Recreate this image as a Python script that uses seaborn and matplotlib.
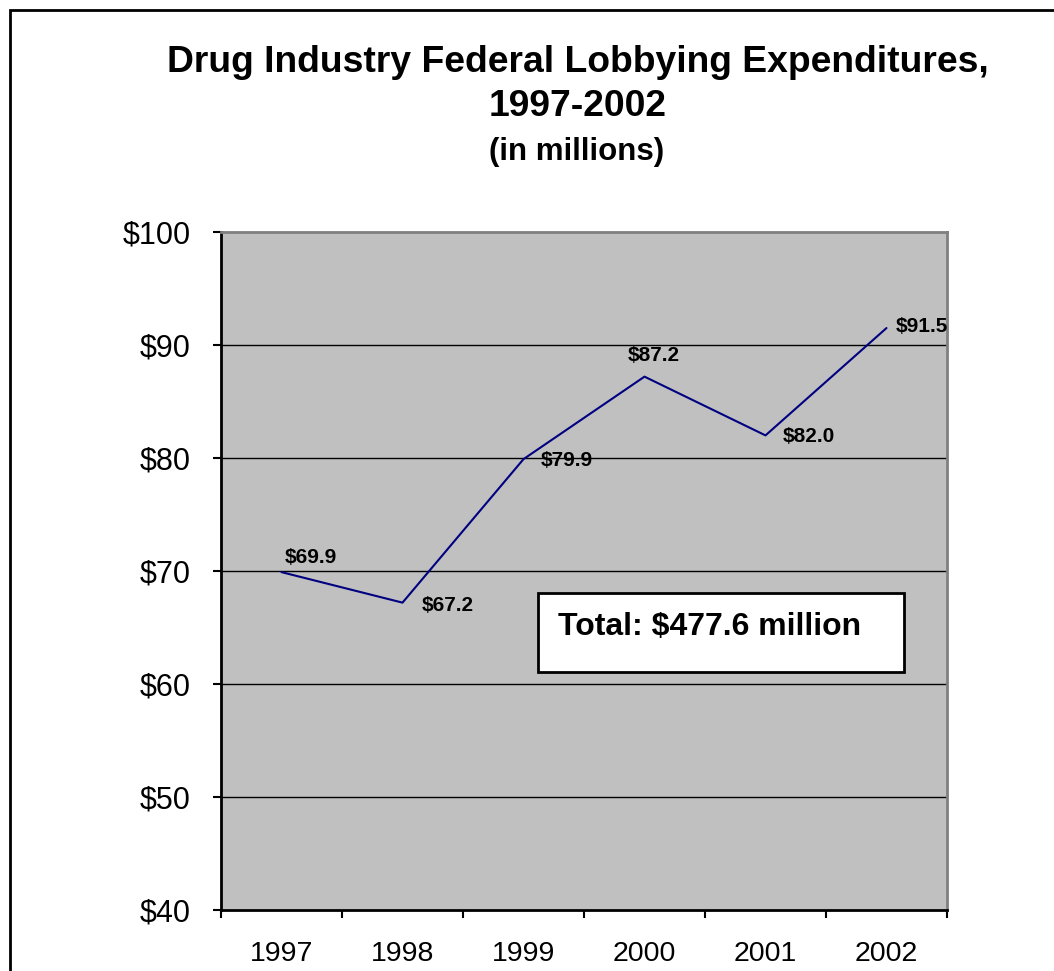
import matplotlib
matplotlib.use("Agg")
import matplotlib.pyplot as plt
import matplotlib.patches as mpatches
import seaborn as sns
import pandas as pd
import numpy as np

years = ["1997", "1998", "1999", "2000", "2001", "2002"]
values = [69.9, 67.2, 79.9, 87.2, 82.0, 91.5]
value_labels = ["$69.9", "$67.2", "$79.9", "$87.2", "$82.0", "$91.5"]
y_ticks = [40, 50, 60, 70, 80, 90, 100]
y_tick_labels = ["$40", "$50", "$60", "$70", "$80", "$90", "$100"]
total_text = "Total: $477.6 million"
title_lines = ["Drug Industry Federal Lobbying Expenditures,", "1997-2002", "(in millions)"]

# label offsets in pixels (styling)
label_offsets = [(29, 15), (45, -3), (43, -1), (9, 21), (43, -1), (35, 2)]

sns.set_theme(style="white")
plt.rcParams["font.family"] = ["Liberation Sans", "DejaVu Sans"]
plt.rcParams["text.color"] = "black"
plt.rcParams["xtick.color"] = "black"
plt.rcParams["ytick.color"] = "black"

df = pd.DataFrame({"idx": np.arange(len(years)), "value": values})

fig = plt.figure(figsize=(10.54, 9.71), dpi=100)
W, H = 1054, 971
L, R, T, B = 221, 947, 232, 910
ax = fig.add_axes([L / W, 1 - B / H, (R - L) / W, (B - T) / H])
ax.set_facecolor("#C0C0C0")

sns.lineplot(data=df, x="idx", y="value", ax=ax, color="#000080", linewidth=1.5,
             marker=None, legend=False)

ax.set_xlim(-0.5, len(years) - 0.5)
ax.set_ylim(40, 100)
ax.set_yticks(y_ticks)
ax.set_yticklabels(y_tick_labels, fontsize=22)
ax.set_xticks(np.arange(len(years) + 1) - 0.5)
ax.set_xticklabels([])
ax.set_xticks(np.arange(len(years)), minor=True)
ax.set_xticklabels(years, minor=True, fontsize=20.5)
ax.tick_params(axis="x", which="minor", length=0, pad=22)
ax.tick_params(axis="x", which="major", length=6, width=1.5, color="black", direction="out", bottom=True)
ax.tick_params(axis="y", length=6, width=1.5, color="black", direction="out", left=True, pad=16)
ax.set_xlabel("")
ax.set_ylabel("")

for yv in y_ticks[1:-1]:
    ax.axhline(yv, color="black", linewidth=1, zorder=1)

for s in ["left", "bottom"]:
    ax.spines[s].set_color("black")
    ax.spines[s].set_linewidth(2)
for s in ["top", "right"]:
    ax.spines[s].set_color("#808080")
    ax.spines[s].set_linewidth(2)

for i, (v, lab) in enumerate(zip(values, value_labels)):
    ax.annotate(lab, (i, v), xytext=label_offsets[i], textcoords="offset pixels",
                ha="center", va="center", fontsize=15, fontweight="bold", color="black")

# Total box
bx0 = (538 - L) / (R - L)
by0 = (B - 672) / (B - T)
bw = (904 - 538) / (R - L)
bh = (672 - 593) / (B - T)
ax.add_patch(mpatches.Rectangle((bx0, by0), bw, bh, transform=ax.transAxes,
                                facecolor="white", edgecolor="black", linewidth=2, zorder=5))
ax.text((558 - L) / (R - L), (B - 627) / (B - T), total_text, transform=ax.transAxes,
        ha="left", va="center", fontsize=23, fontweight="bold", color="black", zorder=6)

# Titles
fig.text(578 / W, 1 - 62 / H, title_lines[0], ha="center", va="center", fontsize=26.8, fontweight="bold")
fig.text(578 / W, 1 - 107 / H, title_lines[1], ha="center", va="center", fontsize=26.8, fontweight="bold")
fig.text(577 / W, 1 - 152 / H, title_lines[2], ha="center", va="center", fontsize=22.5, fontweight="bold")

# Outer border
fig.patches.append(mpatches.Rectangle((10 / W, -0.1), 1.2, 1 - 10 / H + 0.1, transform=fig.transFigure,
                                      facecolor="none", edgecolor="black", linewidth=2))

fig.savefig("out.png", dpi=100)
